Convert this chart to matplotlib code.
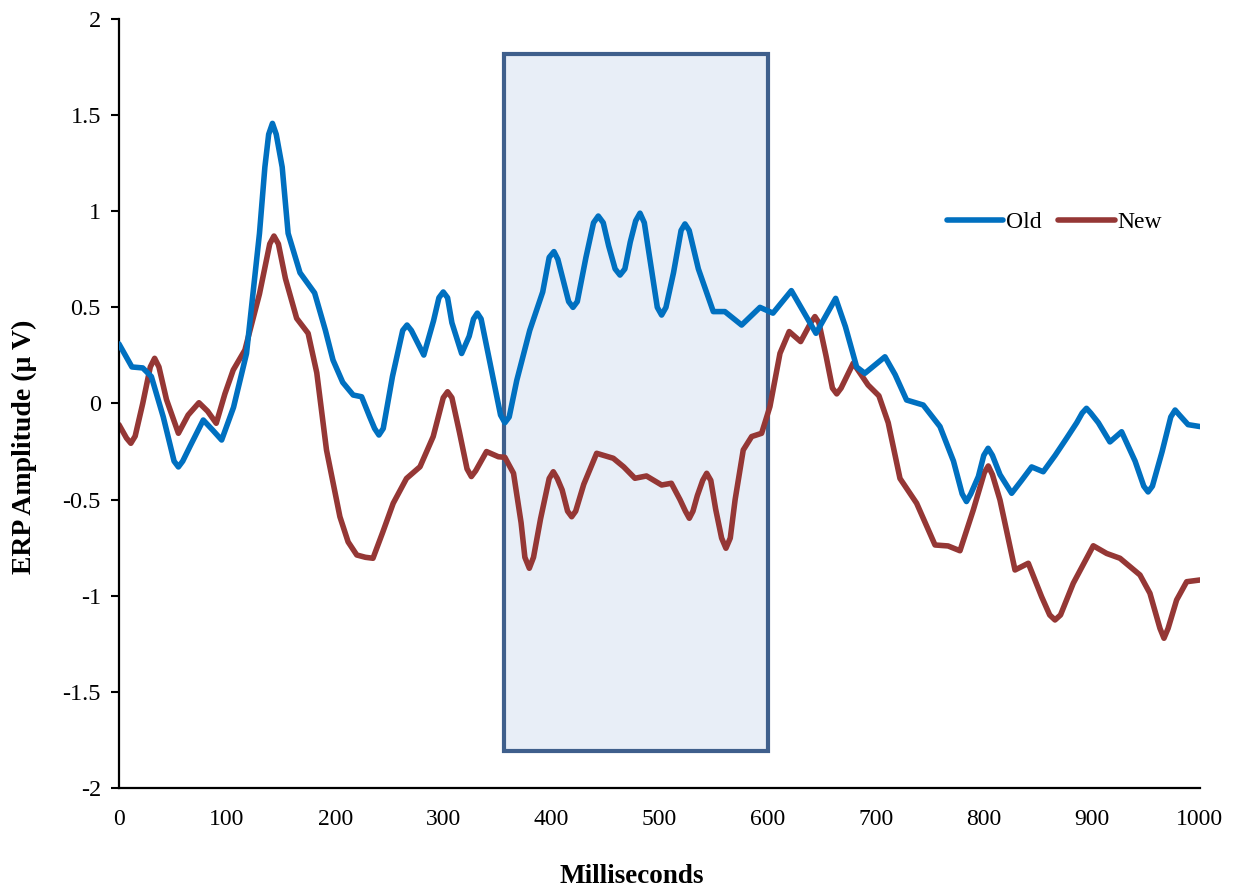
import matplotlib
matplotlib.use('Agg')
import matplotlib.pyplot as plt
from matplotlib.patches import Rectangle

# ---- data: (ms, microvolts) ----
old_pts = [(0, 0.31), (12, 0.19), (22, 0.185), (30, 0.14), (41, -0.07), (51, -0.30),
           (55, -0.33), (59, -0.30), (66, -0.22), (78, -0.086), (87, -0.14), (95, -0.19),
           (106, -0.02), (118, 0.26), (130, 0.885), (135, 1.23), (138.5, 1.40),
           (142, 1.457), (145.5, 1.40), (151, 1.23), (156.5, 0.885), (167.5, 0.68),
           (181, 0.575), (191, 0.38), (198, 0.226), (207, 0.11), (216.7, 0.044),
           (224.5, 0.035), (232, -0.07), (236.5, -0.13), (240.5, -0.164), (244.5, -0.13),
           (253, 0.14), (262.5, 0.38), (266.5, 0.408), (270.5, 0.38), (282, 0.252),
           (291, 0.43), (296, 0.55), (300, 0.58), (304, 0.55), (308, 0.42), (317, 0.26),
           (324, 0.35), (328, 0.44), (331.5, 0.47), (335, 0.44), (344, 0.19),
           (353, -0.06), (357, -0.10), (361, -0.07), (368, 0.12), (380, 0.38),
           (392, 0.58), (398, 0.76), (402.4, 0.79), (406, 0.75), (411, 0.64),
           (416, 0.53), (420, 0.50), (424, 0.53), (432, 0.76), (439, 0.94),
           (443.4, 0.975), (448, 0.94), (453, 0.82), (459, 0.70), (463.5, 0.668),
           (468, 0.70), (473, 0.84), (478, 0.95), (482, 0.99), (486, 0.94), (492, 0.72),
           (498, 0.50), (502, 0.46), (506, 0.50), (513, 0.68), (520, 0.90),
           (523.6, 0.934), (527.5, 0.90), (536, 0.70), (549.8, 0.478), (560.5, 0.478),
           (576, 0.408), (593, 0.50), (605, 0.47), (622, 0.587), (634, 0.47),
           (644.8, 0.365), (663, 0.547), (672, 0.40), (682.4, 0.19), (690, 0.157),
           (708.6, 0.243), (718, 0.15), (728.6, 0.018), (744, -0.008), (759.5, -0.12),
           (772, -0.3), (780, -0.47), (784, -0.51), (788, -0.47), (795, -0.38),
           (800, -0.27), (804, -0.233), (808, -0.27), (815, -0.37), (825.8, -0.467),
           (835, -0.40), (844.3, -0.33), (855, -0.355), (866, -0.27), (876.7, -0.18),
           (886, -0.1), (891, -0.05), (895, -0.025), (899, -0.05), (906, -0.1),
           (916.7, -0.2), (927.5, -0.147), (940, -0.3), (948, -0.43), (952, -0.46),
           (956, -0.43), (965, -0.25), (973, -0.07), (977, -0.034), (981, -0.06),
           (989, -0.11), (1000, -0.12)]

new_pts = [(0, -0.11), (7, -0.18), (11, -0.207), (15, -0.17), (22, 0.0), (29, 0.19),
           (33, 0.235), (37, 0.19), (44, 0.02), (55, -0.155), (64, -0.06), (74, 0.004),
           (82, -0.04), (90, -0.103), (98, 0.05), (105.7, 0.174), (116.5, 0.278),
           (130, 0.57), (139.5, 0.83), (143.4, 0.871), (147.5, 0.83), (154, 0.65),
           (164.4, 0.443), (175, 0.365), (183, 0.16), (192, -0.242), (204.4, -0.589),
           (212, -0.72), (220, -0.788), (228, -0.80), (235, -0.805), (244, -0.67),
           (253.7, -0.519), (266, -0.39), (278.5, -0.329), (290.7, -0.172), (300, 0.03),
           (304, 0.061), (308, 0.03), (315, -0.15), (322, -0.34), (326, -0.38),
           (330, -0.35), (340, -0.25), (351, -0.277), (357, -0.28), (365, -0.363),
           (372, -0.62), (375.5, -0.80), (379.6, -0.857), (383.5, -0.80), (390, -0.6),
           (398, -0.39), (401.8, -0.355), (405.5, -0.39), (410, -0.45), (415, -0.56),
           (418.8, -0.589), (422.5, -0.56), (430, -0.42), (441.9, -0.259),
           (457.3, -0.285), (467, -0.33), (477.3, -0.389), (488, -0.377), (502, -0.424),
           (511, -0.415), (519, -0.5), (524, -0.56), (527.6, -0.597), (531, -0.56),
           (535, -0.48), (540, -0.40), (543.7, -0.363), (547.5, -0.40), (552, -0.55),
           (557.5, -0.70), (561.5, -0.753), (565.5, -0.70), (570, -0.5), (577.5, -0.242),
           (585.3, -0.172), (594.5, -0.155), (602.2, -0.016), (611.5, 0.261),
           (620, 0.374), (630.6, 0.322), (640, 0.42), (643.8, 0.452), (647.5, 0.42),
           (654, 0.25), (660, 0.08), (664, 0.05), (668, 0.08), (679.3, 0.21),
           (693, 0.096), (703, 0.04), (711.6, -0.1), (722.5, -0.39), (737.9, -0.519),
           (754.9, -0.736), (767, -0.741), (778, -0.766), (790.3, -0.554),
           (800.5, -0.36), (804.2, -0.325), (808, -0.37), (815, -0.502), (828.9, -0.866),
           (841.2, -0.831), (853.5, -1.005), (861, -1.10), (865.9, -1.126), (871, -1.10),
           (882.8, -0.935), (901.3, -0.74), (913.7, -0.78), (926, -0.805),
           (944.5, -0.892), (953.7, -0.987), (963, -1.17), (966.7, -1.221),
           (970.5, -1.17), (978.4, -1.022), (987.7, -0.927), (1000, -0.918)]

old_ms, old_uv = zip(*old_pts)
new_ms, new_uv = zip(*new_pts)

# analysis window (ms, uV)
win_start, win_end = 356, 600
win_low, win_high = -1.81, 1.82

x_ticks = [0, 100, 200, 300, 400, 500, 600, 700, 800, 900, 1000]
y_ticks = [-2, -1.5, -1, -0.5, 0, 0.5, 1, 1.5, 2]
y_labels = ['-2', '-1.5', '-1', '-0.5', '0', '0.5', '1', '1.5', '2']

plt.rcParams['font.family'] = ['Liberation Serif', 'DejaVu Serif']

fig = plt.figure(figsize=(12.39, 8.91), dpi=100)
ax = fig.add_axes([0.096, 0.1156, 0.8725, 0.8631])

# shaded window box
ax.add_patch(Rectangle((win_start, win_low), win_end - win_start, win_high - win_low,
                       facecolor='#E8EEF7', edgecolor='#3F5F8C', linewidth=3,
                       zorder=1))

ax.plot(old_ms, old_uv, color='#0070C0', lw=4, label='Old', zorder=3,
        solid_joinstyle='round', solid_capstyle='round')
ax.plot(new_ms, new_uv, color='#953735', lw=4, label='New', zorder=2,
        solid_joinstyle='round', solid_capstyle='round')

ax.set_xlim(0, 1000)
ax.set_ylim(-2, 2)
ax.set_xticks(x_ticks)
ax.set_yticks(y_ticks)
ax.set_yticklabels(y_labels)
ax.tick_params(axis='x', length=0, pad=15, labelsize=17)
ax.tick_params(axis='y', length=6, width=1.5, direction='out', pad=7, labelsize=17.5)

for s in ['top', 'right']:
    ax.spines[s].set_visible(False)
for s in ['left', 'bottom']:
    ax.spines[s].set_linewidth(1.6)

ax.set_xlabel('Milliseconds', fontsize=19.5, fontweight='bold')
ax.xaxis.set_label_coords(0.4746, -0.099)
ax.set_ylabel('ERP Amplitude (µ V)', fontsize=20, fontweight='bold')
ax.yaxis.set_label_coords(-0.076, 0.4435)

ax.legend(loc='center left', bbox_to_anchor=(0.757, 0.736), ncol=2, frameon=False,
          fontsize=17, handlelength=2.4, handletextpad=0.1, columnspacing=0.7,
          borderaxespad=0)

fig.savefig('out.png', dpi=100)
